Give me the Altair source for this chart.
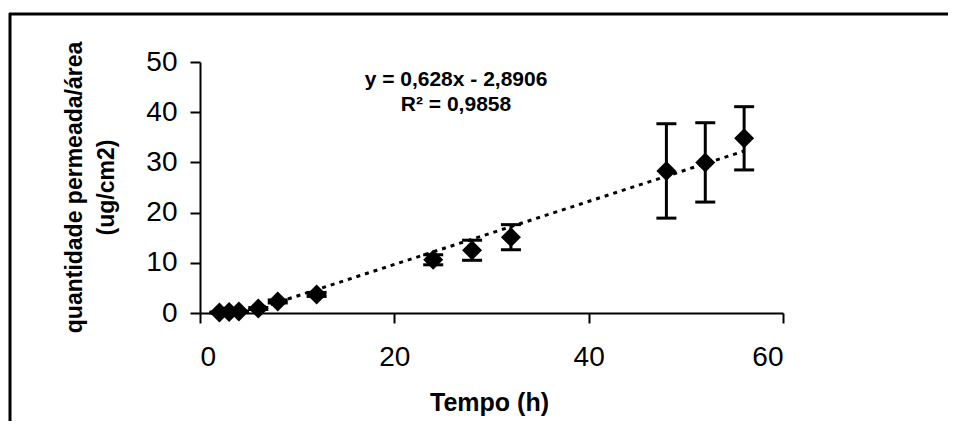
import altair as alt
import pandas as pd

# Data
tempo = [2, 3, 4, 6, 8, 12, 24, 28, 32, 48, 52, 56]
quantidade = [0.1, 0.2, 0.3, 0.9, 2.3, 3.7, 10.6, 12.5, 15.1, 28.3, 30.0, 34.8]
desvio = [0.1, 0.1, 0.1, 0.2, 0.3, 0.4, 1.0, 2.0, 2.5, 9.4, 7.9, 6.3]

# Trendline as printed on the chart: y = 0,628x - 2,8906
slope = 0.628
intercept = -2.8906
trend_x = [2, 56]
eq_lines = ["y = 0,628x - 2,8906", "R\u00b2 = 0,9858"]

x_ticks = [0, 20, 40, 60]
y_ticks = [0, 10, 20, 30, 40, 50]

df = pd.DataFrame({"t": tempo, "q": quantidade, "sd": desvio})
df["lo"] = df["q"] - df["sd"]
df["hi"] = df["q"] + df["sd"]
trend = pd.DataFrame({"t": trend_x, "q": [slope * v + intercept for v in trend_x]})

FONT = "Liberation Sans"

xs = alt.Scale(domain=[0, 60], nice=False, zero=False)
ys = alt.Scale(domain=[0, 50], nice=False)

x_axis = alt.Axis(values=x_ticks, title="Tempo (h)", grid=False, domainColor="black",
                  domainWidth=2, tickColor="black", tickWidth=2, tickSize=10,
                  labelFont=FONT, labelFontSize=28, labelColor="black", labelPadding=20,
                  titleFont=FONT, titleFontSize=25, titleFontWeight="bold", titleColor="black",
                  titleBaseline="alphabetic", titleY=97, titleX=289)
y_axis = alt.Axis(values=y_ticks, title=["quantidade permeada/área", "(ug/cm2)"], grid=False,
                  domainColor="black", domainWidth=2, tickColor="black", tickWidth=2, tickSize=10,
                  labelFont=FONT, labelFontSize=28, labelColor="black", labelPadding=13,
                  titleFont=FONT, titleFontSize=23, titleFontWeight="bold", titleColor="black",
                  titleAngle=-90, titleBaseline="middle", titleLineHeight=32,
                  titleX=-126, titleY=125)

base = alt.Chart(df)

points = base.mark_point(shape="diamond", filled=True, color="black", size=400, opacity=1).encode(
    x=alt.X("t:Q", scale=xs, axis=x_axis),
    y=alt.Y("q:Q", scale=ys, axis=y_axis),
)

bars = base.mark_rule(color="black", strokeWidth=3).encode(
    x="t:Q", y="lo:Q", y2="hi:Q"
)
caps_hi = base.mark_tick(orient="horizontal", color="black", size=20, thickness=3, opacity=1).encode(
    x="t:Q", y="hi:Q"
)
caps_lo = base.mark_tick(orient="horizontal", color="black", size=20, thickness=3, opacity=1).encode(
    x="t:Q", y="lo:Q"
)

line = alt.Chart(trend).mark_line(color="black", strokeWidth=3, strokeDash=[4, 5], clip=True).encode(
    x=alt.X("t:Q", scale=xs), y=alt.Y("q:Q", scale=ys)
)

eq1 = alt.Chart(pd.DataFrame({"s": [eq_lines[0]]})).mark_text(
    font=FONT, fontSize=21, fontWeight="bold", color="black", align="center", baseline="middle"
).encode(text="s:N", x=alt.value(256), y=alt.value(18))
eq2 = alt.Chart(pd.DataFrame({"s": [eq_lines[1]]})).mark_text(
    font=FONT, fontSize=21, fontWeight="bold", color="black", align="center", baseline="middle"
).encode(text="s:N", x=alt.value(256), y=alt.value(43))

frame_top = alt.Chart(pd.DataFrame({"a": [0]})).mark_rule(color="black", strokeWidth=3).encode(
    x=alt.value(-191), x2=alt.value(760), y=alt.value(-48), y2=alt.value(-48)
)
frame_left = alt.Chart(pd.DataFrame({"a": [0]})).mark_rule(color="black", strokeWidth=3).encode(
    x=alt.value(-190), x2=alt.value(-190), y=alt.value(-49), y2=alt.value(370)
)

chart = alt.layer(frame_top, frame_left, line, bars, caps_hi, caps_lo, points, eq1, eq2).properties(
    width=583, height=251,
    autosize=alt.AutoSizeParams(type="none"),
    padding={"left": 192, "top": 54, "right": 165, "bottom": 108},
    background="white",
).configure_view(stroke=None)

chart.save("out.html", embed_options={"renderer": "svg", "actions": False})
